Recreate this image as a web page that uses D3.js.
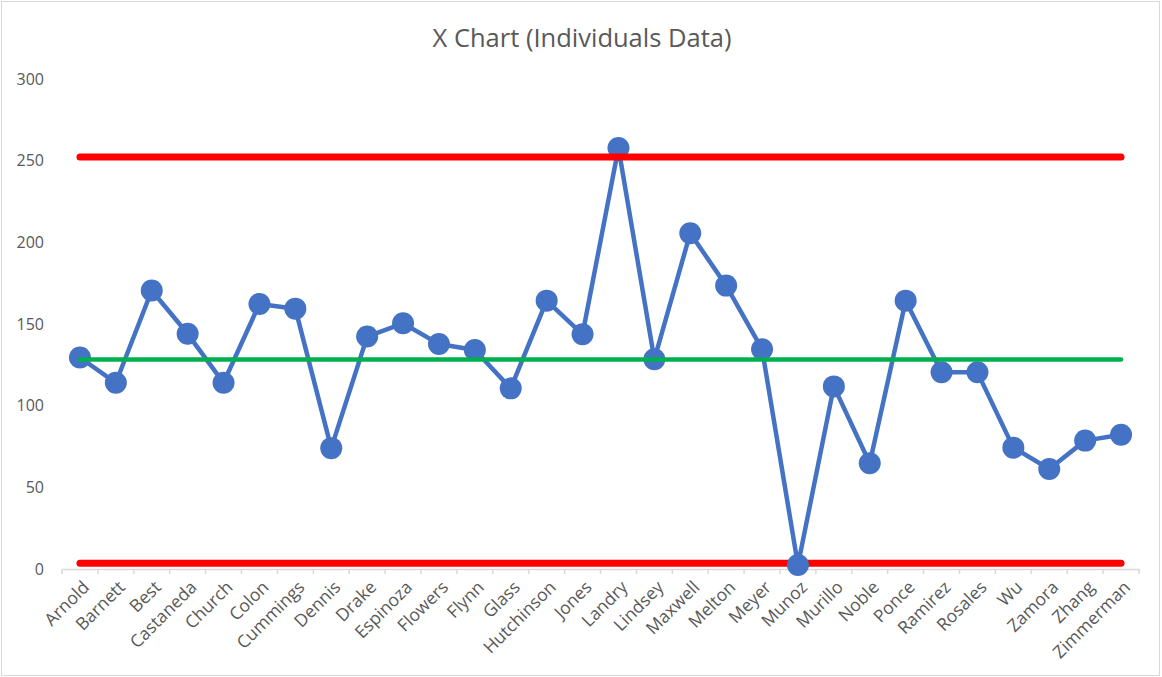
<!DOCTYPE html>
<html><head><meta charset="utf-8">
<script src="https://cdn.jsdelivr.net/npm/d3@7"></script>
<style>body{margin:0;background:#fff}svg{display:block}text{font-family:"Open Sans",sans-serif;fill:#595959}</style>
</head><body><svg id="c" width="1162" height="677"></svg>
<script>
const categories = ["Arnold","Barnett","Best","Castaneda","Church","Colon","Cummings","Dennis","Drake","Espinoza","Flowers","Flynn","Glass","Hutchinson","Jones","Landry","Lindsey","Maxwell","Melton","Meyer","Munoz","Murillo","Noble","Ponce","Ramirez","Rosales","Wu","Zamora","Zhang","Zimmerman"];
const values = [129.5,114,170.5,144,114,162.3,159.4,74,142.3,150.4,137.8,134.1,110.6,164.3,143.7,257.8,128.4,205.6,173.5,134.6,2.4,111.8,64.7,164.3,120.4,120.4,74.3,61.2,78.6,82.2];
const ucl = 252.3, center = 128.3, lcl = 3.5;
const yTicks = [0,50,100,150,200,250,300];
const title = "X Chart (Individuals Data)";

const svg = d3.select("#c");
svg.append("rect").attr("x",1.5).attr("y",1.5).attr("width",1158).attr("height",674)
  .attr("fill","#fff").attr("stroke","#d9d9d9").attr("stroke-width",1);

const x = d3.scaleBand().domain(categories).range([62,1139]).padding(0);
const y = d3.scaleLinear().domain([0,300]).range([569,79]);
const cx = c => x(c) + x.bandwidth()/2;

svg.append("text").attr("x",582).attr("y",47).attr("text-anchor","middle")
  .style("font-size","25.5px").text(title);

// y labels
svg.append("g").selectAll("text").data(yTicks).join("text")
  .attr("x",44).attr("y",d=>y(d)).attr("dy","0.35em").attr("text-anchor","end")
  .style("font-size","16px").text(d=>d);

// x axis
const xa = svg.append("g").attr("transform","translate(0,569)")
  .call(d3.axisBottom(x).tickSize(0).tickFormat(""));
xa.select(".domain").attr("stroke","#d9d9d9").attr("stroke-width",1.5);
const bounds = categories.map(c=>x(c)).concat([x.range()[1]]);
svg.append("g").selectAll("line").data(bounds).join("line")
  .attr("x1",d=>d).attr("x2",d=>d).attr("y1",569).attr("y2",574)
  .attr("stroke","#d9d9d9").attr("stroke-width",1.5);
svg.append("g").selectAll("text").data(categories).join("text")
  .attr("transform",d=>`translate(${cx(d)+6},${584}) rotate(-45)`)
  .attr("text-anchor","end").attr("dy","0.35em")
  .style("font-size","17.5px").text(d=>d);

const first = categories[0], last = categories[categories.length-1];
function hline(v,color,w){
  svg.append("line").attr("x1",cx(first)).attr("x2",cx(last))
    .attr("y1",y(v)).attr("y2",y(v)).attr("stroke",color).attr("stroke-width",w)
    .attr("stroke-linecap","round");
}
hline(lcl,"#FF0000",7);

const line = d3.line().x((d,i)=>cx(categories[i])).y(d=>y(d));
svg.append("path").datum(values).attr("d",line).attr("fill","none")
  .attr("stroke","#4472C4").attr("stroke-width",4.5).attr("stroke-linejoin","round");
svg.append("g").selectAll("circle").data(values).join("circle")
  .attr("cx",(d,i)=>cx(categories[i])).attr("cy",d=>y(d)).attr("r",11)
  .attr("fill","#4472C4");

hline(center,"#00B050",4.5);
hline(ucl,"#FF0000",7);
</script></body></html>
